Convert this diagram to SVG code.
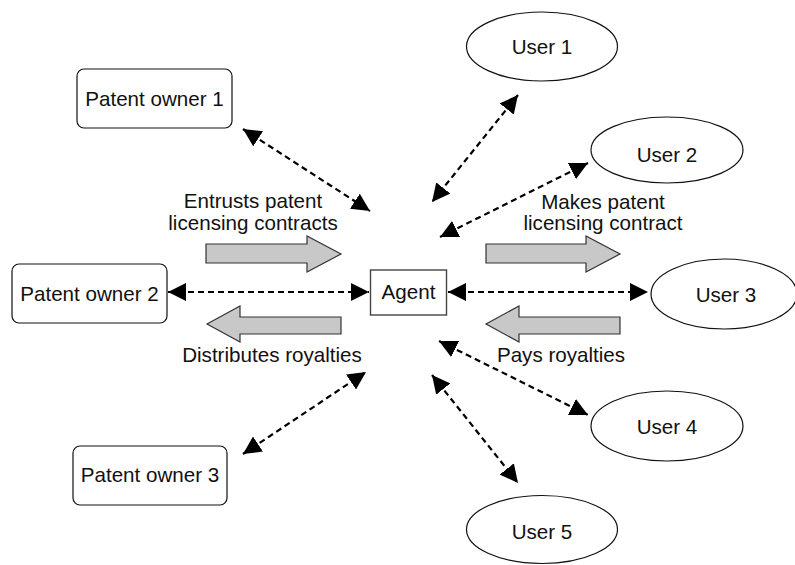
<svg xmlns="http://www.w3.org/2000/svg" width="795" height="565" viewBox="0 0 795 565">
  <style>
    text { font-family: "Liberation Sans", Arial, sans-serif; font-size: 20.6px; fill: #111; text-anchor: middle; }
    .owner { fill: #fff; stroke: #111; stroke-width: 1.2; }
    .user { fill: #fff; stroke: #111; stroke-width: 1.2; }
    .agent { fill: #fff; stroke: #444; stroke-width: 1.4; }
    .link { stroke: #000; stroke-width: 2.2; stroke-dasharray: 6 4; fill: none; marker-start: url(#tip); marker-end: url(#tip); }
    .flow { fill: #c8c8c8; stroke: #333; stroke-width: 1.2; }
  </style>
  <defs>
    <marker id="tip" viewBox="0 0 18 18" refX="18" refY="9" markerWidth="18" markerHeight="18" markerUnits="userSpaceOnUse" orient="auto-start-reverse">
      <path d="M0,0 L18,9 L0,18 Z" fill="#000"/>
    </marker>
  </defs>

  <!-- dashed two-way links to the agent -->
  <g id="connectors">
    <line class="link" x1="243" y1="129" x2="370" y2="211"/>
    <line class="link" x1="168" y1="292" x2="369" y2="292"/>
    <line class="link" x1="243" y1="454" x2="366" y2="372"/>
    <line class="link" x1="518" y1="95" x2="432" y2="202"/>
    <line class="link" x1="588" y1="163" x2="440" y2="237"/>
    <line class="link" x1="448" y1="292" x2="648" y2="292"/>
    <line class="link" x1="439" y1="341" x2="588" y2="415"/>
    <line class="link" x1="432" y1="375" x2="518" y2="483"/>
  </g>

  <!-- block arrows for the flows -->
  <g id="flow-entrust">
    <path class="flow" d="M206,244 H307 V236 L341,254 L307,272 V263 H206 Z"/>
    <text x="253" y="208">Entrusts patent</text>
    <text x="253" y="230">licensing contracts</text>
  </g>
  <g id="flow-distribute">
    <path class="flow" d="M341,317 H240 V306 L207,324 L240,342 V334 H341 Z"/>
    <text x="272" y="362">Distributes royalties</text>
  </g>
  <g id="flow-contract">
    <path class="flow" d="M486,244 H586 V236 L620,254 L586,272 V263 H486 Z"/>
    <text x="603" y="209">Makes patent</text>
    <text x="603" y="230">licensing contract</text>
  </g>
  <g id="flow-pay">
    <path class="flow" d="M620,317 H519 V306 L486,324 L519,342 V334 H620 Z"/>
    <text x="561" y="362">Pays royalties</text>
  </g>

  <!-- patent owners -->
  <g id="patent-owner-1">
    <rect class="owner" x="77" y="69" width="155" height="59" rx="7"/>
    <text x="154.5" y="105.5">Patent owner 1</text>
  </g>
  <g id="patent-owner-2">
    <rect class="owner" x="12" y="264" width="155" height="59" rx="7"/>
    <text x="89.5" y="300.5">Patent owner 2</text>
  </g>
  <g id="patent-owner-3">
    <rect class="owner" x="73" y="446" width="154" height="59" rx="7"/>
    <text x="150" y="482">Patent owner 3</text>
  </g>

  <!-- agent -->
  <g id="agent">
    <rect class="agent" x="370.5" y="270" width="76" height="45"/>
    <text x="408.5" y="299">Agent</text>
  </g>

  <!-- users -->
  <g id="user-1">
    <ellipse class="user" cx="542" cy="46.5" rx="75.5" ry="34.5"/>
    <text x="542" y="53.5">User 1</text>
  </g>
  <g id="user-2">
    <ellipse class="user" cx="667" cy="150" rx="76" ry="33"/>
    <text x="667" y="161.5">User 2</text>
  </g>
  <g id="user-3">
    <ellipse class="user" cx="724" cy="294" rx="73" ry="35"/>
    <text x="726" y="302">User 3</text>
  </g>
  <g id="user-4">
    <ellipse class="user" cx="667" cy="426" rx="76" ry="35"/>
    <text x="667" y="434">User 4</text>
  </g>
  <g id="user-5">
    <ellipse class="user" cx="542" cy="529.5" rx="75.5" ry="34"/>
    <text x="542" y="538.5">User 5</text>
  </g>
</svg>
